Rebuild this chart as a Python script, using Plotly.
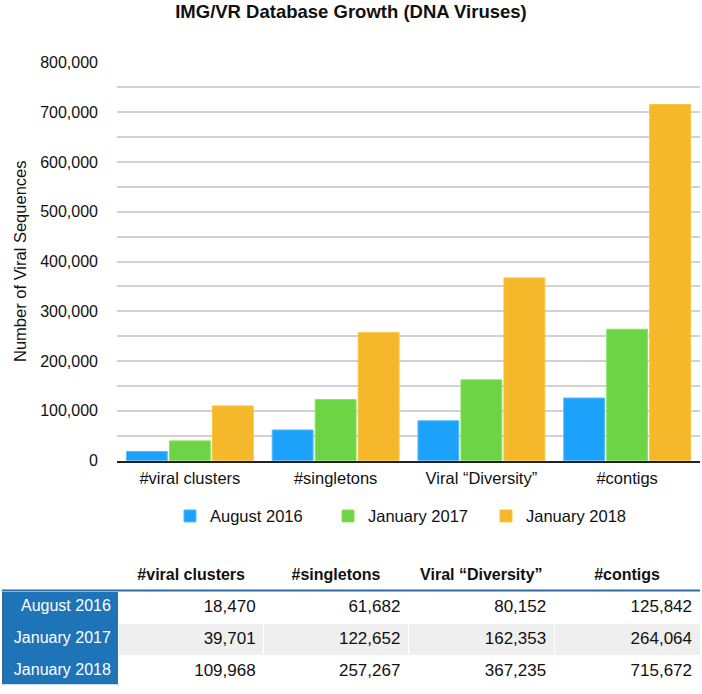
import plotly.graph_objects as go

# data
categories = ["#viral clusters", "#singletons", "Viral \u201cDiversity\u201d", "#contigs"]
releases = ["August 2016", "January 2017", "January 2018"]
aug_2016 = [18470, 61682, 80152, 125842]
jan_2017 = [39701, 122652, 162353, 264064]
jan_2018 = [109968, 257267, 367235, 715672]

series = [aug_2016, jan_2017, jan_2018]
colors = ["#1ca2fb", "#6dd545", "#f5b82a"]
edges = ["#55bafd", "#86e35f", "#f9c43c"]

W, H = 702, 694
PW = W - 2  # paper width (r margin 2)
FONT = "Liberation Sans, Arial, Helvetica, sans-serif"

def py(y):  # page pixel row -> paper fraction
    return 1 - y / H

fig = go.Figure()

for name, vals, c, e in zip(releases, series, colors, edges):
    fig.add_trace(go.Bar(x=categories, y=vals, name=name,
                         marker=dict(color=c, line=dict(color=e, width=1))))

# table under the chart
def fmt(v):
    return f"{v:,}"

row_labels = [r.replace(" ", "\u00a0") for r in releases]  # no wrapping in the narrow column
cols = [row_labels] + [[fmt(s[i]) for s in series] for i in range(len(categories))]
row_fill = ["white", "#efefef", "white"]
fig.add_trace(go.Table(
    domain=dict(x=[2 / PW, 1], y=[0, py(564)]),
    columnwidth=[117, 145, 145, 146, 146],
    header=dict(values=[""] + ["<b>%s</b>" % c for c in categories],
                fill_color="white", line_color="white", height=33,
                align="center",
                font=dict(family=FONT, size=16, color="#111")),
    cells=dict(values=cols,
               fill_color=[["#1f74b8"] * 3] + [row_fill] * 4,
               line_color=[["#2f6a9c"] * 3] + [["white"] * 3] * 4,
               height=32, align="right",
               font=dict(family=FONT, size=[16, 17, 17, 17, 17],
                         color=[["white"] * 3] + [["#111"] * 3] * 4)),
))

fig.update_layout(
    width=W, height=H,
    margin=dict(l=0, r=2, t=0, b=0),
    paper_bgcolor="white", plot_bgcolor="white",
    font=dict(family=FONT, size=16, color="#111"),
    title=dict(text="<b>IMG/VR Database Growth (DNA Viruses)</b>",
               x=0.5, xanchor="center", y=py(12), yanchor="middle",
               yref="container", font=dict(size=18.5, color="#111")),
    barmode="group", bargap=0.115, bargroupgap=0.05,
    showlegend=True,
    legend=dict(orientation="h", x=170 / PW, xanchor="left",
                y=py(521), yanchor="middle",
                font=dict(size=16.5), entrywidth=113,
                traceorder="normal"),
    xaxis=dict(domain=[117 / PW, 1], showline=True, linecolor="#222",
               linewidth=2, ticks="", ticklabelstandoff=2,
               tickfont=dict(size=16.5)),
    yaxis=dict(domain=[py(464), py(55.2)], range=[0, 801500],
               tickvals=[0, 100000, 200000, 300000, 400000, 500000, 600000, 700000, 800000],
               tickformat=",d", showgrid=True,
               gridcolor="#d2d2d2", gridwidth=1.5, zeroline=False,
               ticklabelstandoff=18, tickfont=dict(size=16),
               minor=dict(tickvals=[50000, 150000, 250000, 350000, 450000,
                                    550000, 650000, 750000],
                          showgrid=True, gridcolor="#d2d2d2", gridwidth=1.5),
               title=dict(text="Number of Viral Sequences", standoff=9,
                          font=dict(size=16.5))),
)

# blue rule under table header
fig.add_shape(type="line", xref="paper", yref="paper",
              x0=2 / PW, x1=1, y0=py(597), y1=py(597),
              line=dict(color="#2f6a9c", width=2))

# page body margin would otherwise push the 702x694 figure off the window
fig.write_html("out.html", config={"displayModeBar": False},
               post_script="document.body.style.margin='0';")
